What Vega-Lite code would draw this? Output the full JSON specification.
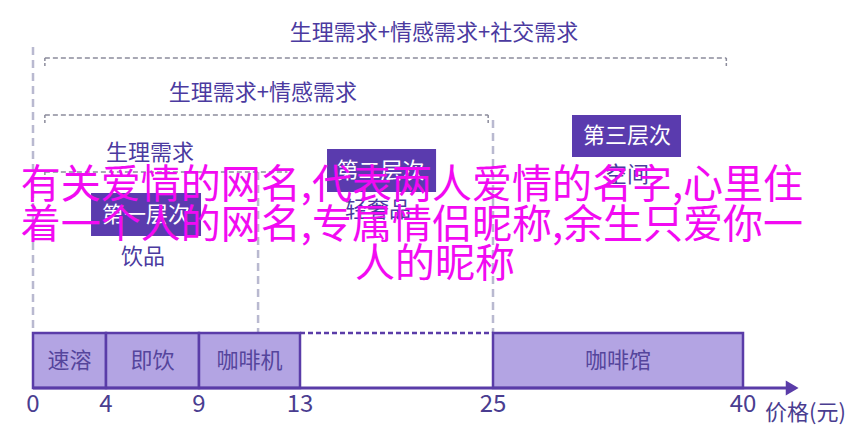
{
  "$schema": "https://vega.github.io/schema/vega-lite/v6.json",
  "width": 864,
  "height": 443,
  "padding": 0,
  "autosize": {"type": "none"},
  "background": "#ffffff",
  "view": {"stroke": null},
  "config": {"text": {"font": "Noto Sans CJK SC"}},
  "datasets": {
    "vlines": [
      {"x": 0, "y": 341, "y2": 55},
      {"x": 11.34, "y": 216, "y2": 3},
      {"x": 25, "y": 268, "y2": 55}
    ],
    "brackets": [
      {"x": 0.65, "x2": 39.0, "y": 330},
      {"x": 0.65, "x2": 24.7, "y": 273},
      {"x": 0.65, "x2": 12.5, "y": 216}
    ],
    "bticks": [
      {"x": 0.65, "y": 330, "y2": 322},
      {"x": 39.0, "y": 330, "y2": 322},
      {"x": 0.65, "y": 273, "y2": 265},
      {"x": 24.7, "y": 273, "y2": 265},
      {"x": 0.65, "y": 216, "y2": 208}
    ],
    "needs": [
      {"x": 21.33, "y": 355, "label": "生理需求+情感需求+社交需求"},
      {"x": 11.53, "y": 295, "label": "生理需求+情感需求"},
      {"x": 6.37, "y": 235, "label": "生理需求"},
      {"x": 5.99, "y": 131, "label": "饮品"},
      {"x": 17.85, "y": 178, "label": "轻奢品"},
      {"x": 33.04, "y": 213, "label": "空间"}
    ],
    "levels": [
      {"x": 3.18, "x2": 9.08, "y": 195, "y2": 152, "xc": 6.15, "yc": 173, "label": "第一层次"},
      {"x": 14.68, "x2": 21.46, "y": 239, "y2": 196, "xc": 18.0, "yc": 217, "label": "第二层次"},
      {"x": 29.74, "x2": 36.28, "y": 273, "y2": 231, "xc": 33.04, "yc": 252, "label": "第三层次"}
    ],
    "products": [
      {"x": 0, "x2": 4, "xc": 2, "y": 0, "y2": 55, "yc": 27, "label": "速溶"},
      {"x": 4, "x2": 9, "xc": 6.5, "y": 0, "y2": 55, "yc": 27, "label": "即饮"},
      {"x": 9, "x2": 13, "xc": 11, "y": 0, "y2": 55, "yc": 27, "label": "咖啡机"},
      {"x": 25, "x2": 40, "xc": 32.5, "y": 0, "y2": 55, "yc": 27, "label": "咖啡馆"}
    ],
    "ticks": [
      {"x": 0, "y": -17, "label": "0"},
      {"x": 4, "y": -17, "label": "4"},
      {"x": 9, "y": -17, "label": "9"},
      {"x": 13, "y": -17, "label": "13"},
      {"x": 25, "y": -17, "label": "25"},
      {"x": 40, "y": -17, "label": "40"}
    ],
    "watermark": [
      {"x": 19.96, "y": 202, "label": "有关爱情的网名,代表两人爱情的名字,心里住"},
      {"x": 19.96, "y": 162, "label": "着一个人的网名,专属情侣昵称,余生只爱你一"},
      {"x": 21.4, "y": 123, "label": "人的昵称"}
    ]
  },
  "layer": [
    {
      "data": {"name": "vlines"},
      "mark": {"type": "rule", "color": "#b9b9d0", "strokeWidth": 2.5, "strokeDash": [8, 5]},
      "encoding": {
        "x": {"field": "x", "type": "quantitative", "axis": null, "scale": {"type": "linear", "domain": [0, 4, 9, 13, 25, 40], "range": [33, 106, 199, 300, 493, 743], "nice": false, "zero": false, "clamp": false}},
        "y": {"field": "y", "type": "quantitative", "axis": null, "scale": {"domain": [-55, 388], "nice": false, "zero": false}},
        "y2": {"field": "y2"}
      }
    },
    {
      "data": {"name": "brackets"},
      "mark": {"type": "rule", "color": "#8c8c9c", "strokeWidth": 1.5, "strokeDash": [5, 3]},
      "encoding": {
        "x": {"field": "x", "type": "quantitative", "axis": null},
        "x2": {"field": "x2"},
        "y": {"field": "y", "type": "quantitative", "axis": null}
      }
    },
    {
      "data": {"name": "bticks"},
      "mark": {"type": "rule", "color": "#8c8c9c", "strokeWidth": 1.5, "strokeDash": [3, 2]},
      "encoding": {
        "x": {"field": "x", "type": "quantitative", "axis": null},
        "y": {"field": "y", "type": "quantitative", "axis": null},
        "y2": {"field": "y2"}
      }
    },
    {
      "data": {"name": "products"},
      "mark": {"type": "rect", "fill": "#b3a4e3", "stroke": "#5a3ca8", "strokeWidth": 2.5},
      "encoding": {
        "x": {"field": "x", "type": "quantitative", "axis": null},
        "x2": {"field": "x2"},
        "y": {"field": "y", "type": "quantitative", "axis": null},
        "y2": {"field": "y2"}
      }
    },
    {
      "data": {"values": [{"x": 13, "x2": 25, "y": 55}]},
      "mark": {"type": "rule", "color": "#5a3ca8", "strokeWidth": 2.5, "strokeDash": [5, 3]},
      "encoding": {
        "x": {"field": "x", "type": "quantitative", "axis": null},
        "x2": {"field": "x2"},
        "y": {"field": "y", "type": "quantitative", "axis": null}
      }
    },
    {
      "data": {"values": [{"x": 0, "x2": 42.7, "y": 0}]},
      "mark": {"type": "rule", "color": "#5a3ca8", "strokeWidth": 3},
      "encoding": {
        "x": {"field": "x", "type": "quantitative", "axis": null},
        "x2": {"field": "x2"},
        "y": {"field": "y", "type": "quantitative", "axis": null}
      }
    },
    {
      "data": {"values": [{"x": 42.95, "y": 0}]},
      "mark": {"type": "point", "shape": "triangle-right", "filled": true, "color": "#5a3ca8", "size": 220, "opacity": 1},
      "encoding": {
        "x": {"field": "x", "type": "quantitative", "axis": null},
        "y": {"field": "y", "type": "quantitative", "axis": null}
      }
    },
    {
      "data": {"name": "products"},
      "mark": {"type": "text", "fontSize": 22, "color": "#55459c", "align": "center", "baseline": "middle"},
      "encoding": {
        "x": {"field": "xc", "type": "quantitative", "axis": null},
        "y": {"field": "yc", "type": "quantitative", "axis": null},
        "text": {"field": "label"}
      }
    },
    {
      "data": {"name": "ticks"},
      "mark": {"type": "text", "fontSize": 24, "color": "#4a3d90", "align": "center", "baseline": "middle"},
      "encoding": {
        "x": {"field": "x", "type": "quantitative", "axis": null},
        "y": {"field": "y", "type": "quantitative", "axis": null},
        "text": {"field": "label"}
      }
    },
    {
      "data": {"values": [{"x": 41.32, "y": -25, "label": "价格(元)"}]},
      "mark": {"type": "text", "fontSize": 22, "color": "#4a3d90", "align": "left", "baseline": "middle"},
      "encoding": {
        "x": {"field": "x", "type": "quantitative", "axis": null},
        "y": {"field": "y", "type": "quantitative", "axis": null},
        "text": {"field": "label"}
      }
    },
    {
      "data": {"name": "needs"},
      "mark": {"type": "text", "fontSize": 22, "color": "#4b3aa0", "align": "center", "baseline": "middle"},
      "encoding": {
        "x": {"field": "x", "type": "quantitative", "axis": null},
        "y": {"field": "y", "type": "quantitative", "axis": null},
        "text": {"field": "label"}
      }
    },
    {
      "data": {"name": "levels"},
      "mark": {"type": "rect", "fill": "#5a3bae"},
      "encoding": {
        "x": {"field": "x", "type": "quantitative", "axis": null},
        "x2": {"field": "x2"},
        "y": {"field": "y", "type": "quantitative", "axis": null},
        "y2": {"field": "y2"}
      }
    },
    {
      "data": {"name": "levels"},
      "mark": {"type": "text", "fontSize": 22, "color": "#ffffff", "align": "center", "baseline": "middle"},
      "encoding": {
        "x": {"field": "xc", "type": "quantitative", "axis": null},
        "y": {"field": "yc", "type": "quantitative", "axis": null},
        "text": {"field": "label"}
      }
    },
    {
      "data": {"name": "watermark"},
      "mark": {"type": "text", "fontSize": 40, "color": "#f20af2", "align": "center", "baseline": "middle"},
      "encoding": {
        "x": {"field": "x", "type": "quantitative", "axis": null},
        "y": {"field": "y", "type": "quantitative", "axis": null},
        "text": {"field": "label"}
      }
    }
  ]
}
